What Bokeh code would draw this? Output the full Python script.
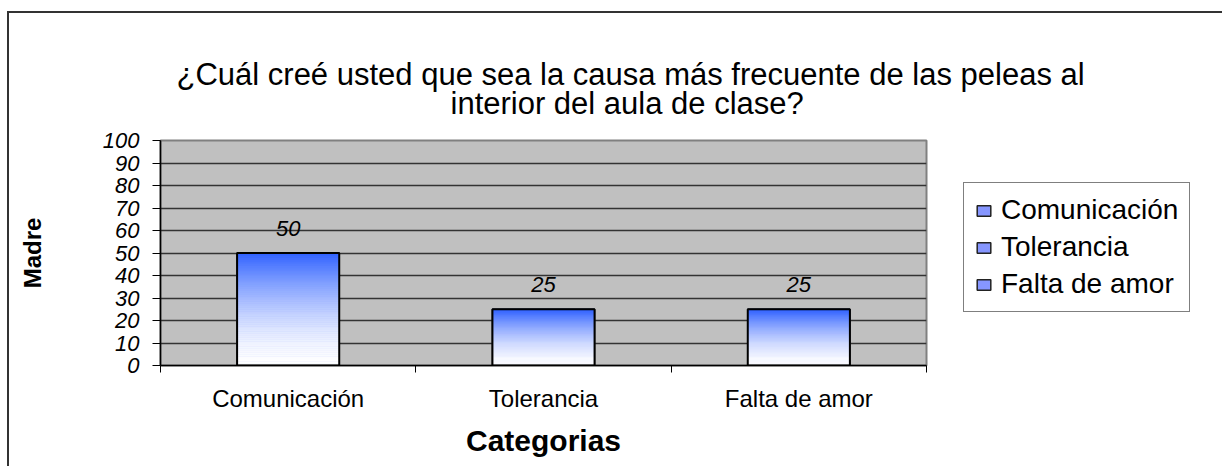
from bokeh.plotting import figure
from bokeh.models import (ColumnDataSource, FixedTicker, LabelSet,
                          Legend, LegendItem, Range1d, Title)
from bokeh.core.properties import value
from bokeh.embed import file_html
from bokeh.resources import INLINE

# ---------------- data ----------------
categories = ["Comunicación", "Tolerancia", "Falta de amor"]
values = [50, 25, 25]
y_ticks = [0, 10, 20, 30, 40, 50, 60, 70, 80, 90, 100]
title_lines = ["¿Cuál creé usted que sea la causa más frecuente de las peleas al",
               "interior del aula de clase?"]
x_title = "Categorias"
y_title = "Madre"

# ---------------- style ----------------
FONT = "Liberation Sans"
TOP_RGB = (48, 98, 255)
BOT_RGB = (255, 255, 255)
LEGEND_FILL = "#8696ff"
N_STRIPS = 60
BAR_W = 0.4

p = figure(width=1215, height=455, title_location=None,
           x_range=Range1d(0, len(categories)), y_range=Range1d(0, 100),
           output_backend="svg", toolbar_location=None,
           min_border_left=151, min_border_right=298,
           min_border_top=127, min_border_bottom=103)
p.styles = {"border-left": "2px solid #333333",
            "border-top": "2px solid #333333",
            "margin-top": "11px", "margin-left": "7px"}

p.background_fill_color = "#c0c0c0"
p.border_fill_color = "white"
p.outline_line_color = "#808080"
p.outline_line_width = 2

centers = [i + 0.5 for i in range(len(categories))]
bars = ColumnDataSource(dict(
    left=[c - BAR_W / 2 for c in centers],
    right=[c + BAR_W / 2 for c in centers],
    top=values, x=centers, label=[str(v) for v in values]))

p.quad(left="left", right="right", bottom=0, top="top", source=bars,
       fill_color=LEGEND_FILL, line_color="#222222", line_width=1.5)

sl, sr, sb, st, sc = [], [], [], [], []
for c, v in zip(centers, values):
    for k in range(N_STRIPS):
        f = ((k + 0.5) / N_STRIPS) ** 1.6
        col = "#%02x%02x%02x" % tuple(
            round(BOT_RGB[j] + (TOP_RGB[j] - BOT_RGB[j]) * f) for j in range(3))
        sl.append(c - BAR_W / 2)
        sr.append(c + BAR_W / 2)
        sb.append(v * k / N_STRIPS)
        st.append(v * (k + 1) / N_STRIPS)
        sc.append(col)
strips = ColumnDataSource(dict(left=sl, right=sr, bottom=sb, top=st, color=sc))
p.quad(left="left", right="right", bottom="bottom", top="top", source=strips,
       fill_color="color", line_color="color", line_width=0.6)

p.quad(left="left", right="right", bottom=0, top="top", source=bars,
       fill_color=None, line_color="black", line_width=2)

p.add_layout(LabelSet(x="x", y="top", text="label", source=bars,
                      text_align="center", text_baseline="middle",
                      y_offset=25, text_font=value(FONT),
                      text_font_style="italic",
                      text_font_size="22px", text_color="black"))

# axes
p.xgrid.visible = False
p.ygrid.ticker = FixedTicker(ticks=y_ticks)
p.ygrid.grid_line_color = "#333333"
p.ygrid.grid_line_width = 1.5

p.yaxis.ticker = FixedTicker(ticks=y_ticks, minor_ticks=[])
p.yaxis.axis_line_color = "black"
p.yaxis.axis_line_width = 1.5
p.yaxis.major_tick_out = 8
p.yaxis.major_tick_in = 0
p.yaxis.major_tick_line_color = "black"
p.yaxis.minor_tick_line_color = None
p.yaxis.major_label_text_font = FONT
p.yaxis.major_label_text_font_style = "italic"
p.yaxis.major_label_text_font_size = "22px"
p.yaxis.major_label_text_color = "black"
p.yaxis.major_label_standoff = 13
p.yaxis.axis_label = y_title
p.yaxis.axis_label_text_font = FONT
p.yaxis.axis_label_text_font_style = "bold"
p.yaxis.axis_label_text_font_size = "24px"
p.yaxis.axis_label_text_color = "black"
p.yaxis.axis_label_standoff = 54

p.xaxis.ticker = FixedTicker(ticks=centers,
                             minor_ticks=list(range(len(categories) + 1)))
p.xaxis.major_label_overrides = {c: name for c, name in zip(centers, categories)}
p.xaxis.axis_line_color = "black"
p.xaxis.axis_line_width = 1.5
p.xaxis.major_tick_out = 0
p.xaxis.major_tick_in = 0
p.xaxis.minor_tick_out = 7
p.xaxis.minor_tick_in = 0
p.xaxis.minor_tick_line_color = "black"
p.xaxis.major_label_text_font = FONT
p.xaxis.major_label_text_font_size = "24px"
p.xaxis.major_label_text_color = "black"
p.xaxis.major_label_standoff = 12
p.xaxis.axis_label = x_title
p.xaxis.axis_label_text_font = FONT
p.xaxis.axis_label_text_font_style = "bold"
p.xaxis.axis_label_text_font_size = "30px"
p.xaxis.axis_label_text_color = "black"
p.xaxis.axis_label_standoff = 9

# title: two lines, added innermost first
for txt, off, so in zip(reversed(title_lines), [290, 16], [40, -56]):
    p.add_layout(Title(text=txt, align="left", offset=off, standoff=so,
                       text_font=FONT, text_font_style="normal",
                       text_font_size="31px", text_color="black"), "above")

# ---------------- legend (separate small svg figure placed at the right) ----
pl = figure(width=240, height=150, title_location=None,
            x_range=Range1d(0, 1), y_range=Range1d(-2, -1),
            x_axis_location=None, y_axis_location=None,
            output_backend="svg", toolbar_location=None, min_border=0)
pl.styles = {"position": "absolute", "left": "963px", "top": "182px"}
pl.grid.visible = False
pl.outline_line_color = None
pl.background_fill_color = "white"
pl.border_fill_color = "white"
leg_r = pl.quad(left="left", right="right", bottom=0, top="top", source=bars,
                fill_color=LEGEND_FILL, line_color="#222222", line_width=1.5)
legend = Legend(items=[LegendItem(label=c, renderers=[leg_r], index=i)
                       for i, c in enumerate(categories)],
                location="top_left", orientation="vertical",
                border_line_color="black", border_line_width=1,
                background_fill_color="white", background_fill_alpha=1,
                label_text_font=FONT, label_text_font_size="28px",
                label_text_color="black", label_height=30,
                glyph_width=17, glyph_height=13, label_standoff=9,
                spacing=5, padding=11, margin=0)
pl.add_layout(legend, "center")

open("out.html", "w").write(file_html([p, pl], INLINE))
